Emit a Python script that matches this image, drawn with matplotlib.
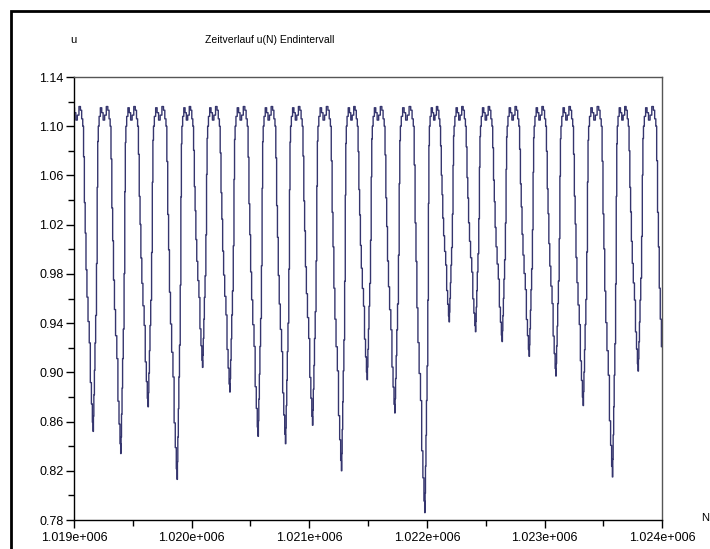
import matplotlib
matplotlib.use('Agg')
import matplotlib.pyplot as plt
from matplotlib.patches import Rectangle
from matplotlib.ticker import MultipleLocator, FixedLocator, FuncFormatter

plt.rcParams['font.family'] = ['Liberation Sans', 'DejaVu Sans']

# positions (N) and depths (u) of each dip
# first and last entries lie just outside the visible interval
dip_n = [1018934, 1019164, 1019399, 1019631, 1019878, 1020094, 1020326,
         1020566, 1020799, 1021029, 1021275, 1021493, 1021728, 1021983,
         1022190, 1022414, 1022640, 1022870, 1023097, 1023329, 1023578,
         1023796, 1024040]
dip_u = [0.860, 0.852, 0.834, 0.872, 0.813, 0.904, 0.884,
         0.848, 0.842, 0.857, 0.820, 0.894, 0.867, 0.786,
         0.941, 0.933, 0.925, 0.913, 0.897, 0.873, 0.815,
         0.901, 0.820]

# shape of one cycle read from a single period (phase 0 = dip, 1 = next dip)
base = 1.10
rise_t = [0.0, 0.01, 0.03, 0.05, 0.07, 0.10, 0.13, 0.15, 0.17]
rise_f = [1.0, 0.95, 0.88, 0.80, 0.71, 0.62, 0.45, 0.20, 0.05]
top_t = [0.19, 0.23, 0.28, 0.33, 0.38, 0.44, 0.50, 0.55, 0.59, 0.63]
top_u = [1.100, 1.108, 1.115, 1.111, 1.105, 1.109, 1.116, 1.113, 1.106, 1.100]
fall_t = [0.65, 0.69, 0.71, 0.75, 0.78, 0.83, 0.87, 0.91, 0.95, 0.98]
fall_f = [0.10, 0.25, 0.35, 0.47, 0.56, 0.64, 0.71, 0.84, 0.91, 0.97]

y_ticks = [0.78, 0.82, 0.86, 0.90, 0.94, 0.98, 1.02, 1.06, 1.10, 1.14]

n, u = [], []
for i in range(len(dip_n) - 1):
    n0, n1 = dip_n[i], dip_n[i + 1]
    p = n1 - n0
    for t, f in zip(rise_t, rise_f):
        n.append(n0 + t * p)
        u.append(base - f * (base - dip_u[i]))
    for t, v in zip(top_t, top_u):
        n.append(n0 + t * p)
        u.append(v)
    for t, f in zip(fall_t, fall_f):
        n.append(n0 + t * p)
        u.append(base - f * (base - dip_u[i + 1]))
n.append(dip_n[-1])
u.append(dip_u[-1])

fig = plt.figure(figsize=(7.1, 5.49), dpi=100)
ax = fig.add_axes([74 / 710, 1 - 520 / 549, (662.3 - 74) / 710, (520 - 77) / 549])

ax.plot(n, u, color='#35356e', lw=1.0, drawstyle='steps-mid')

ax.set_xlim(1019000, 1024000)
ax.set_ylim(0.78, 1.14)
ax.xaxis.set_major_locator(MultipleLocator(1000))
ax.xaxis.set_minor_locator(MultipleLocator(500))
ax.yaxis.set_major_locator(FixedLocator(y_ticks))
ax.yaxis.set_minor_locator(FixedLocator([v + 0.02 for v in y_ticks[:-1]]))
ax.xaxis.set_major_formatter(FuncFormatter(lambda v, _: f"{v / 1e6:.3f}e+006"))
ax.yaxis.set_major_formatter(FuncFormatter(lambda v, _: f"{v:.2f}"))

ax.tick_params(axis='both', which='major', direction='out', length=6, width=1,
               labelsize=9, colors='black')
ax.tick_params(axis='both', which='minor', direction='out', length=4, width=1)
ax.tick_params(axis='y', pad=1.5)
ax.tick_params(axis='x', pad=2.5)

for s in ['left', 'bottom']:
    ax.spines[s].set_color('black')
    ax.spines[s].set_linewidth(1.0)
for s in ['top', 'right']:
    ax.spines[s].set_color('#555555')
    ax.spines[s].set_linewidth(1.0)

# labels placed like the Scilab window
fig.text(73 / 710, 1 - 40 / 549, 'u', ha='center', va='center', fontsize=8)
fig.text(270 / 710, 1 - 40 / 549, 'Zeitverlauf u(N) Endintervall',
         ha='center', va='center', fontsize=7.5)
fig.text(701 / 710, 1 - 518 / 549, 'N', ha='left', va='center', fontsize=8)

# outer window frame (right and bottom edges lie outside the picture)
fig.add_artist(Rectangle((10.7 / 710, -0.2), 1.2, 0.2 + 1 - 10.7 / 549,
                         transform=fig.transFigure, fill=False, lw=2,
                         ec='black', clip_on=False))

fig.savefig('out.png', dpi=100)
